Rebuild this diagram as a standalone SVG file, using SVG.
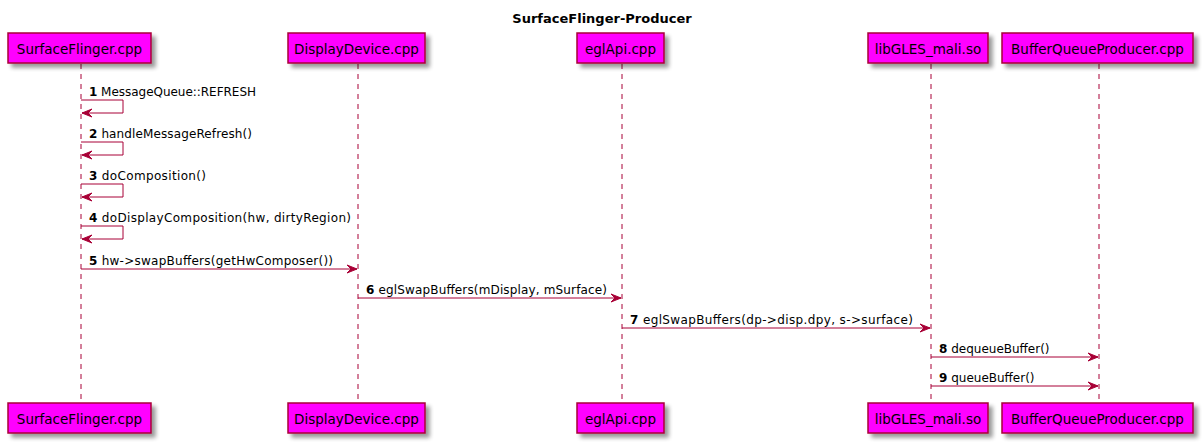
<svg xmlns="http://www.w3.org/2000/svg" width="1203" height="444" viewBox="0 0 1203 444">
<style>
.box{fill:#FF00FF;stroke:#A80036;stroke-width:1.5}
.pt{font-family:"DejaVu Sans",sans-serif;font-size:13.5px;fill:#000;text-anchor:middle}
.life{stroke:#A80036;stroke-width:1;stroke-dasharray:5,5;fill:none}
.msg{stroke:#A80036;stroke-width:1;fill:none}
.lbl{font-family:"DejaVu Sans",sans-serif;font-size:12px;fill:#000}
.num{font-weight:bold}
.title{font-family:"DejaVu Sans",sans-serif;font-size:13px;font-weight:bold;text-anchor:middle;fill:#000}
</style>
<defs>
<filter id="sh" x="-10%" y="-20%" width="130%" height="160%">
<feGaussianBlur in="SourceAlpha" stdDeviation="2"/>
<feOffset dx="4" dy="4" result="b"/>
<feComponentTransfer><feFuncA type="linear" slope="0.4"/></feComponentTransfer>
<feMerge><feMergeNode/><feMergeNode in="SourceGraphic"/></feMerge>
</filter>
<marker id="ar" markerWidth="12" markerHeight="10" refX="10" refY="5" orient="auto" markerUnits="userSpaceOnUse">
<polygon points="0,1 10,5 0,9 4,5" fill="#A80036" stroke="#A80036" stroke-width="1"/>
</marker>
</defs>
<rect width="1203" height="444" fill="#FFFFFF"/>
<text class="title" x="602" y="23">SurfaceFlinger-Producer</text>

<g id="lifelines">
<line class="life" x1="81" y1="64" x2="81" y2="403"/>
<line class="life" x1="358" y1="64" x2="358" y2="403"/>
<line class="life" x1="622" y1="64" x2="622" y2="403"/>
<line class="life" x1="931" y1="64" x2="931" y2="403"/>
<line class="life" x1="1099" y1="64" x2="1099" y2="403"/>
</g>

<g id="SurfaceFlinger">
<rect class="box" filter="url(#sh)" x="8" y="33" width="143" height="30"/>
<text class="pt" x="79.5" y="53.5">SurfaceFlinger.cpp</text>
<rect class="box" filter="url(#sh)" x="8" y="403" width="143" height="30"/>
<text class="pt" x="79.5" y="423.5">SurfaceFlinger.cpp</text>
</g>
<g id="DisplayDevice">
<rect class="box" filter="url(#sh)" x="288" y="33" width="137" height="30"/>
<text class="pt" x="356.5" y="53.5">DisplayDevice.cpp</text>
<rect class="box" filter="url(#sh)" x="288" y="403" width="137" height="30"/>
<text class="pt" x="356.5" y="423.5">DisplayDevice.cpp</text>
</g>
<g id="eglApi">
<rect class="box" filter="url(#sh)" x="577" y="33" width="87" height="30"/>
<text class="pt" x="620.5" y="53.5">eglApi.cpp</text>
<rect class="box" filter="url(#sh)" x="577" y="403" width="87" height="30"/>
<text class="pt" x="620.5" y="423.5">eglApi.cpp</text>
</g>
<g id="libGLES">
<rect class="box" filter="url(#sh)" x="868" y="33" width="120" height="30"/>
<text class="pt" x="928" y="53.5">libGLES_mali.so</text>
<rect class="box" filter="url(#sh)" x="868" y="403" width="120" height="30"/>
<text class="pt" x="928" y="423.5">libGLES_mali.so</text>
</g>
<g id="BufferQueueProducer">
<rect class="box" filter="url(#sh)" x="1002" y="33" width="191" height="30"/>
<text class="pt" x="1097.5" y="53.5">BufferQueueProducer.cpp</text>
<rect class="box" filter="url(#sh)" x="1002" y="403" width="191" height="30"/>
<text class="pt" x="1097.5" y="423.5">BufferQueueProducer.cpp</text>
</g>

<g id="connectors">
<polyline class="msg" points="81,100 123,100 123,113 82,113" marker-end="url(#ar)"/>
<polyline class="msg" points="81,142 123,142 123,155 82,155" marker-end="url(#ar)"/>
<polyline class="msg" points="81,184 123,184 123,197 82,197" marker-end="url(#ar)"/>
<polyline class="msg" points="81,226 123,226 123,239 82,239" marker-end="url(#ar)"/>
<line class="msg" x1="81" y1="269" x2="357" y2="269" marker-end="url(#ar)"/>
<line class="msg" x1="358" y1="298" x2="621" y2="298" marker-end="url(#ar)"/>
<line class="msg" x1="622" y1="328" x2="930" y2="328" marker-end="url(#ar)"/>
<line class="msg" x1="931" y1="357" x2="1098" y2="357" marker-end="url(#ar)"/>
<line class="msg" x1="931" y1="386" x2="1098" y2="386" marker-end="url(#ar)"/>
</g>

<g id="labels">
<text class="lbl" x="89" y="96" textLength="167" lengthAdjust="spacing"><tspan class="num">1</tspan> MessageQueue::REFRESH</text>
<text class="lbl" x="89" y="138" textLength="163" lengthAdjust="spacing"><tspan class="num">2</tspan> handleMessageRefresh()</text>
<text class="lbl" x="89" y="180" textLength="117" lengthAdjust="spacing"><tspan class="num">3</tspan> doComposition()</text>
<text class="lbl" x="89" y="222" textLength="262" lengthAdjust="spacing"><tspan class="num">4</tspan> doDisplayComposition(hw, dirtyRegion)</text>
<text class="lbl" x="89" y="265" textLength="244" lengthAdjust="spacing"><tspan class="num">5</tspan> hw-&gt;swapBuffers(getHwComposer())</text>
<text class="lbl" x="366" y="294" textLength="241" lengthAdjust="spacing"><tspan class="num">6</tspan> eglSwapBuffers(mDisplay, mSurface)</text>
<text class="lbl" x="630" y="324" textLength="283" lengthAdjust="spacing"><tspan class="num">7</tspan> eglSwapBuffers(dp-&gt;disp.dpy, s-&gt;surface)</text>
<text class="lbl" x="939" y="353"><tspan class="num">8</tspan> dequeueBuffer()</text>
<text class="lbl" x="939" y="382"><tspan class="num">9</tspan> queueBuffer()</text>
</g>
</svg>
